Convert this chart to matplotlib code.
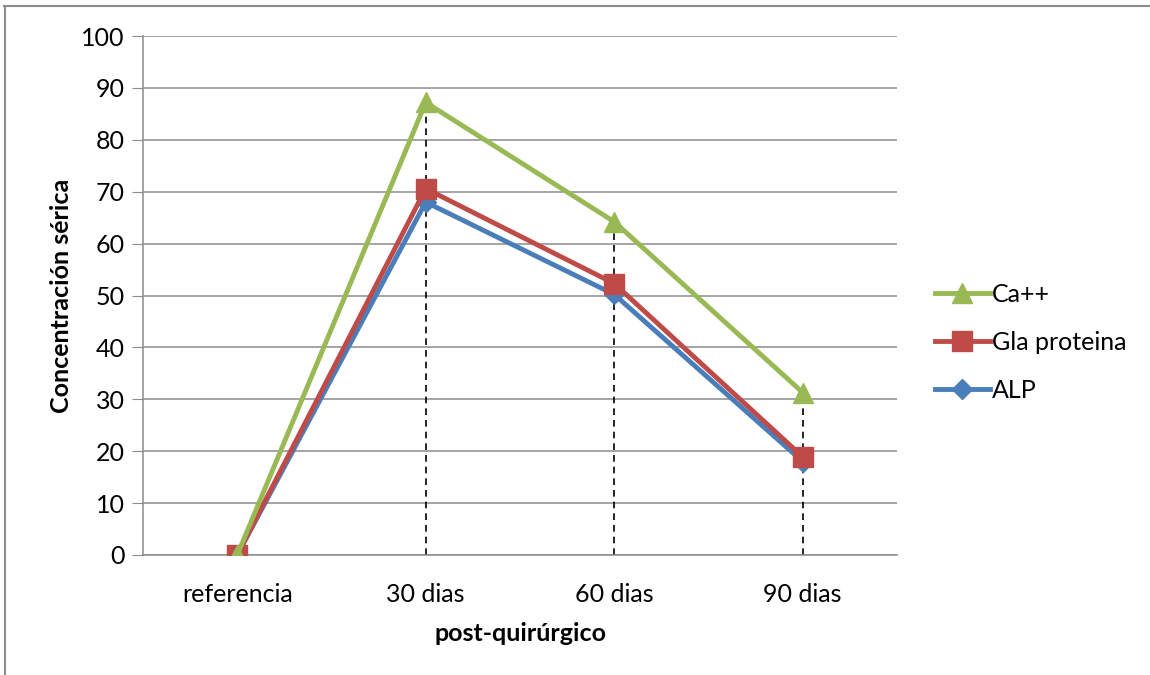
import matplotlib.pyplot as plt
from matplotlib.lines import Line2D
import numpy as np

plt.rcParams['font.family'] = ['Lato', 'DejaVu Sans']

categorias = ['referencia', '30 dias', '60 dias', '90 dias']
ca = [0, 87.2, 64.2, 31.3]
gla = [0, 70.6, 52.3, 18.9]
alp = [0, 68.0, 50.2, 18.0]

x = np.arange(len(categorias))

fig = plt.figure(figsize=(11.5, 6.75), dpi=100)
ax = fig.add_axes([143/1150, 1 - 555/675, (897-143)/1150, (555-36)/675])

# lineas de caida (drop lines) desde el maximo
tope = np.maximum.reduce([ca, gla, alp])
for xi, t in zip(x, tope):
    if t > 0:
        ax.plot([xi, xi], [0, t], color='black', ls=(0, (4, 3)), lw=1.2, zorder=2)

ax.plot(x, alp, color='#4a7ebb', lw=3.5, marker='D', ms=10, label='ALP', zorder=3)
ax.plot(x, gla, color='#be4b48', lw=3.5, marker='s', ms=14, label='Gla proteina', zorder=4)
ax.plot(x, ca, color='#98b954', lw=3.5, marker='^', ms=14, label='Ca++', zorder=5)

ax.set_xlim(-0.5, 3.5)
ax.set_ylim(0, 100)
ax.set_yticks(range(0, 101, 10))
ax.set_xticks(x)
ax.set_xticklabels(categorias)
ax.grid(axis='y', color='#8c8c8c', lw=1.1)
ax.set_axisbelow(True)
for s in ['top', 'right']:
    ax.spines[s].set_visible(False)
for s in ['left', 'bottom']:
    ax.spines[s].set_color('#8c8c8c')
    ax.spines[s].set_linewidth(1.1)
ax.tick_params(axis='y', length=8, color='#8c8c8c', labelsize=18, pad=5)
ax.tick_params(axis='x', length=0, labelsize=18, pad=20)
ax.set_ylabel('Concentración sérica', fontsize=18, fontweight='bold', labelpad=6)
ax.set_xlabel('post-quirúrgico', fontsize=18, fontweight='bold', labelpad=12)

h, l = ax.get_legend_handles_labels()
leg = ax.legend(h[::-1], l[::-1], loc='center left', bbox_to_anchor=(1.02, 0.41),
                frameon=False, fontsize=18, handlelength=2.2, labelspacing=1.0,
                handletextpad=0.1)

# borde del grafico
fig.add_artist(Line2D([4/1150, 1], [1 - 6/675] * 2, color='#8c8c8c', lw=1.5))
fig.add_artist(Line2D([4.5/1150] * 2, [0, 1 - 6/675], color='#8c8c8c', lw=1.5))

fig.savefig('out.png', dpi=100)
